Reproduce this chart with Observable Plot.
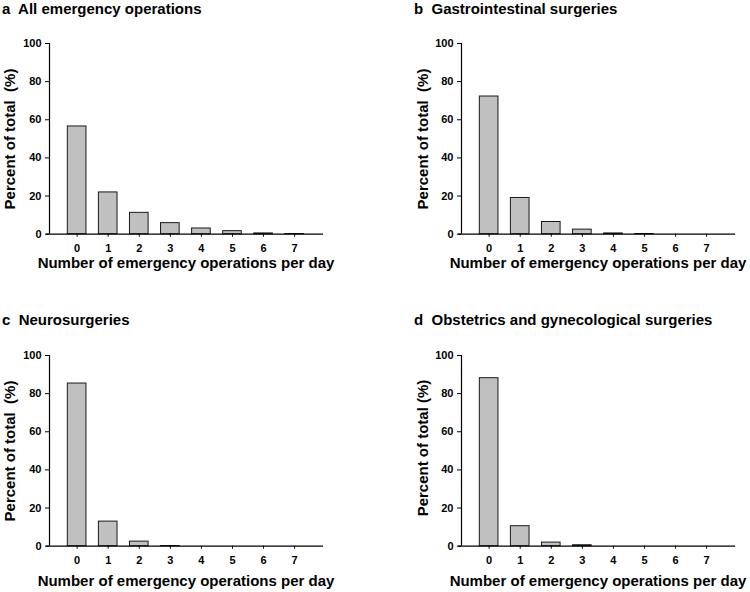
<!DOCTYPE html>
<html>
<head>
<meta charset="utf-8">
<script src="https://cdn.jsdelivr.net/npm/d3@7"></script>
<script src="https://cdn.jsdelivr.net/npm/@observablehq/plot@0.6"></script>
<style>
  body { margin: 0; background: #fff; }
  #fig { position: relative; width: 750px; height: 592px; overflow: hidden; font-family: "Liberation Sans", Arial, sans-serif; font-weight: bold; color: #000; }
  .panel { position: absolute; width: 340px; height: 260px; }
  .panel svg { max-width: none !important; width: 340px !important; height: 260px !important; }
  .title, .xlab, .ylab { position: absolute; font-size: 15px; line-height: 15px; white-space: pre; }
  .xlab { transform: translateX(-50%); }
  .ylab { transform: translate(-50%, -50%) rotate(-90deg); }
</style>
</head>
<body>
<div id="fig"></div>
<script>
// Number of emergency operations per day (categories on the x axis)
const counts = [0, 1, 2, 3, 4, 5, 6, 7];
const yTicks = [0, 20, 40, 60, 80, 100];

// Percent of days with each count, per surgical category
const allOperations    = [56.5, 21.9, 11.2, 5.8, 3.0, 1.6, 0.4, 0.1];
const gastrointestinal = [72.2, 19.0, 6.4, 2.4, 0.4, 0.1, 0, 0];
const neurosurgery     = [85.3, 12.9, 2.4, 0.1, 0, 0, 0, 0];
const obstetricGyn     = [88.1, 10.5, 1.9, 0.5, 0, 0, 0, 0];

const panelTitles = [
  "a  All emergency operations",
  "b  Gastrointestinal surgeries",
  "c  Neurosurgeries",
  "d  Obstetrics and gynecological surgeries"
];
const yLabels = [
  "Percent of total  (%)",
  "Percent of total  (%)",
  "Percent of total  (%)",
  "Percent of total (%)"
];
const xLabel = "Number of emergency operations per day";

const series = [allOperations, gastrointestinal, neurosurgery, obstetricGyn];

// Page layout of the 2x2 grid
const layout = [
  { left: 0,   top: 0,   titleX: 2,   titleY: 1,   yLabX: 9,   yLabY: 139, xLabX: 186, xLabY: 255 },
  { left: 412, top: 0,   titleX: 414, titleY: 1,   yLabX: 422, yLabY: 139, xLabX: 598, xLabY: 255 },
  { left: 0,   top: 312, titleX: 2,   titleY: 312, yLabX: 9,   yLabY: 451, xLabX: 186, xLabY: 573 },
  { left: 412, top: 312, titleX: 414, titleY: 312, yLabX: 422, yLabY: 448, xLabX: 598, xLabY: 573 }
];

const xDomain = [-0.89, 7.93];
const barHalf = 0.3;
const font = '"Liberation Sans", Arial, sans-serif';
const tickFont = { fontSize: 11, fontWeight: "bold", fontFamily: font };

function histogram(values) {
  const rows = counts.map((k, i) => ({ k, pct: values[i] }));
  return Plot.plot({
    width: 340,
    height: 260,
    marginLeft: 49,
    marginRight: 17,
    marginTop: 43,
    marginBottom: 26.3,
    x: { domain: xDomain, axis: null },
    y: { domain: [0, 100], axis: null },
    style: { fontFamily: font, fontSize: "11px", fontWeight: "bold", color: "#000", background: "transparent", overflow: "visible" },
    marks: [
      Plot.rect(rows.filter(d => d.pct > 0), {
        x1: d => d.k - barHalf,
        x2: d => d.k + barHalf,
        y1: 0,
        y2: "pct",
        fill: "#c0c0c0",
        stroke: "#1a1a1a",
        strokeWidth: 1
      }),
      // x-axis baseline runs slightly past the y axis, as in the figure
      Plot.ruleY([0], { x1: xDomain[0] - 0.1, x2: xDomain[1], stroke: "#000", strokeWidth: 1.2 }),
      Plot.ruleX([xDomain[0]], { y1: 0, y2: 100, stroke: "#000", strokeWidth: 1.2 }),
      Plot.axisY({ ticks: yTicks, tickSize: 4, tickPadding: 4, tickFormat: d => String(d), label: null, strokeOpacity: 1, ...tickFont }),
      Plot.axisX({ ticks: counts, tickSize: 3, tickPadding: 7, tickFormat: d => String(d), label: null, strokeOpacity: 1, ...tickFont })
    ]
  });
}

const fig = document.getElementById("fig");
series.forEach((values, i) => {
  const L = layout[i];
  const holder = document.createElement("div");
  holder.className = "panel";
  holder.style.left = L.left + "px";
  holder.style.top = L.top + "px";
  holder.appendChild(histogram(values));
  fig.appendChild(holder);

  const title = document.createElement("div");
  title.className = "title";
  title.textContent = panelTitles[i];
  title.style.left = L.titleX + "px";
  title.style.top = L.titleY + "px";
  fig.appendChild(title);

  const ylab = document.createElement("div");
  ylab.className = "ylab";
  ylab.textContent = yLabels[i];
  ylab.style.left = L.yLabX + "px";
  ylab.style.top = L.yLabY + "px";
  fig.appendChild(ylab);

  const xlab = document.createElement("div");
  xlab.className = "xlab";
  xlab.textContent = xLabel;
  xlab.style.left = L.xLabX + "px";
  xlab.style.top = L.xLabY + "px";
  fig.appendChild(xlab);
});
</script>
</body>
</html>
